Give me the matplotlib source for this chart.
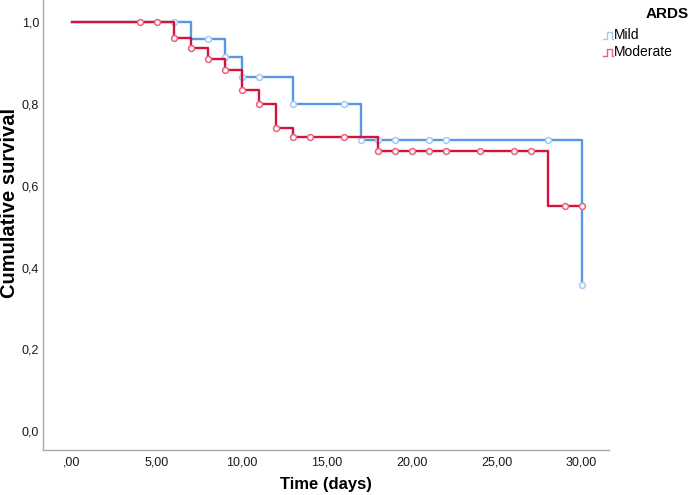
import matplotlib
matplotlib.use("Agg")
import matplotlib.pyplot as plt
from matplotlib.lines import Line2D
from matplotlib.ticker import FuncFormatter

plt.rcParams['font.family'] = ['Liberation Sans', 'DejaVu Sans']

# ---- data ----
mild_times = [0, 7, 9, 10, 13, 17, 30]
mild_surv = [1.0, 0.958, 0.915, 0.866, 0.800, 0.711, 0.357]
mild_cens_t = [6, 8, 9, 10, 11, 13, 16, 17, 18, 19, 21, 22, 28, 30]
mild_cens_s = [1.0, 0.958, 0.915, 0.866, 0.866, 0.800, 0.800, 0.711, 0.711,
               0.711, 0.711, 0.711, 0.711, 0.357]

mod_times = [0, 6, 7, 8, 9, 10, 11, 12, 13, 18, 28, 30]
mod_surv = [1.0, 0.960, 0.936, 0.909, 0.882, 0.834, 0.799, 0.740, 0.718,
            0.685, 0.550, 0.550]
mod_cens_t = [4, 5, 6, 7, 8, 9, 10, 11, 12, 13, 14, 16, 18, 19, 20, 21, 22,
              24, 26, 27, 29, 30]
mod_cens_s = [1.0, 1.0, 0.960, 0.936, 0.909, 0.882, 0.834, 0.799, 0.740,
              0.718, 0.718, 0.718, 0.685, 0.685, 0.685, 0.685, 0.685, 0.685,
              0.685, 0.685, 0.550, 0.550]

groups = ["Mild", "Moderate"]
x_ticks = [0, 5, 10, 15, 20, 25, 30]
y_ticks = [0.0, 0.2, 0.4, 0.6, 0.8, 1.0]

blue = "#5599E6"
blue_m = "#A8C9F0"
red = "#D4123A"
red_m = "#E8607A"

fig = plt.figure(figsize=(6.91, 4.95), dpi=100)
ax = fig.add_axes([0.0627, 0.091, 0.8183, 0.909])

ax.step(mild_times, mild_surv, where='post', color=blue, lw=1.7, zorder=2)
ax.plot(mild_cens_t, mild_cens_s, 'o', ms=4.2, mfc='white', mec=blue_m,
        mew=1.1, zorder=3)
ax.step(mod_times, mod_surv, where='post', color=red, lw=1.7, zorder=4)
ax.plot(mod_cens_t, mod_cens_s, 'o', ms=4.2, mfc='white', mec=red_m,
        mew=1.1, zorder=5)

ax.set_xlim(-1.69, 31.6)
ax.set_ylim(-0.046, 1.054)
ax.set_xticks(x_ticks)
ax.set_yticks(y_ticks)


def xfmt(v, pos):
    s = f"{v:.2f}".replace('.', ',')
    if s.startswith('0,'):
        s = s[1:]
    return s


ax.xaxis.set_major_formatter(FuncFormatter(xfmt))
ax.yaxis.set_major_formatter(FuncFormatter(lambda v, p: f"{v:.1f}".replace('.', ',')))
ax.tick_params(length=0, labelsize=9, colors='#1a1a1a')
ax.tick_params(axis='x', pad=5)
ax.tick_params(axis='y', pad=3)
for s in ['top', 'right']:
    ax.spines[s].set_visible(False)
for s in ['left', 'bottom']:
    ax.spines[s].set_color('#AAAAAA')
    ax.spines[s].set_linewidth(1.0)

fig.text(326 / 691, 1 - 485 / 495, "Time (days)", ha='center', va='center',
         fontsize=12, fontweight='bold')
fig.text(10 / 691, 1 - 203 / 495, "Cumulative survival", ha='center',
         va='center', rotation=90, fontsize=14.5, fontweight='bold')

# legend
fig.text(0.997, 0.972, "ARDS", ha='right', va='center', fontsize=11,
         fontweight='bold')
leg_items = [(groups[0], blue_m, 1 - 35 / 495), (groups[1], red_m, 1 - 52 / 495)]
for name, lc, yy in leg_items:
    x0 = 603 / 691
    w = 10 / 691
    h = 7 / 495
    xs = [x0, x0 + w * 0.35, x0 + w * 0.35, x0 + w * 0.85, x0 + w * 0.85, x0 + w]
    ys = [yy - h / 2, yy - h / 2, yy + h / 2, yy + h / 2, yy - h / 2, yy - h / 2]
    fig.add_artist(Line2D(xs, ys, color=lc, lw=1.0, transform=fig.transFigure))
    fig.text(614 / 691, yy, name, ha='left', va='center', fontsize=10)

fig.savefig("out.png", dpi=100)
